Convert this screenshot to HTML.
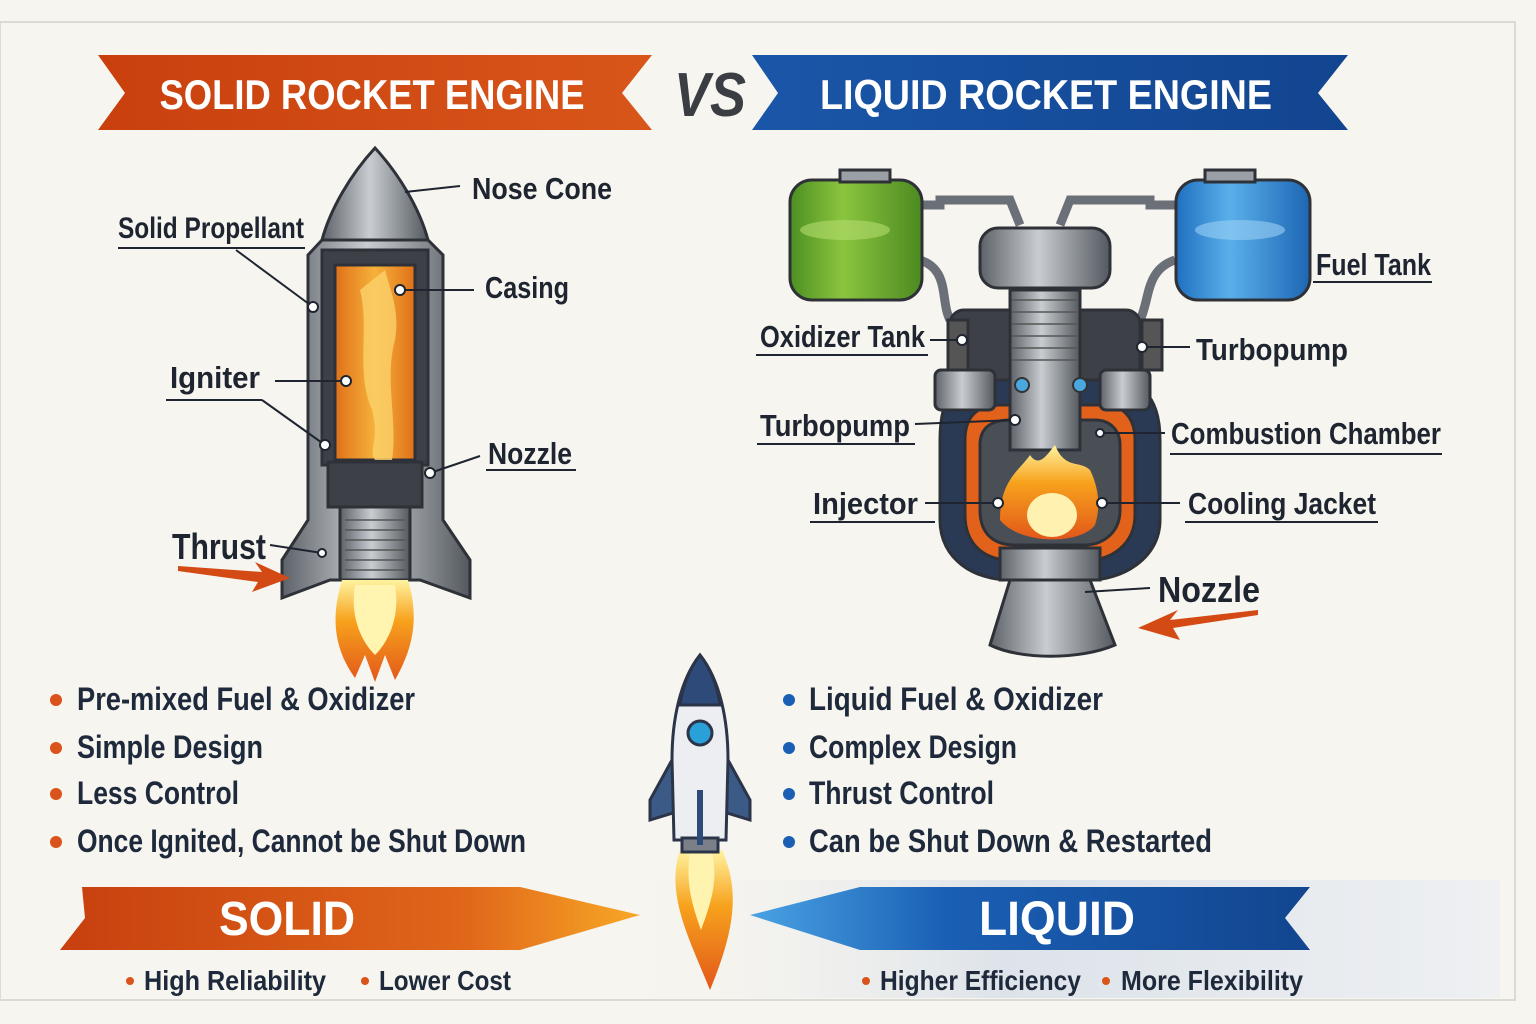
<!DOCTYPE html>
<html><head><meta charset="utf-8"><style>
html,body{margin:0;padding:0;background:#f7f5ef;}
svg{display:block}
text{font-family:"Liberation Sans Narrow","Liberation Sans",sans-serif;font-weight:bold;}
</style></head><body>
<svg width="1536" height="1024" viewBox="0 0 1536 1024" xmlns="http://www.w3.org/2000/svg">
<defs>
<linearGradient id="or" x1="0" x2="1"><stop offset="0" stop-color="#c9400e"/><stop offset="1" stop-color="#d8561a"/></linearGradient>
<linearGradient id="bl" x1="0" x2="1"><stop offset="0" stop-color="#1a56a8"/><stop offset="1" stop-color="#124590"/></linearGradient>
<linearGradient id="prop" x1="0" x2="1"><stop offset="0" stop-color="#e0701a"/><stop offset=".5" stop-color="#f6b23a"/><stop offset="1" stop-color="#e0701a"/></linearGradient>
<linearGradient id="metal" x1="0" x2="1"><stop offset="0" stop-color="#5d6268"/><stop offset=".45" stop-color="#c9cdd2"/><stop offset="1" stop-color="#54595f"/></linearGradient>
<linearGradient id="flame" x1="0" y1="0" x2="0" y2="1"><stop offset="0" stop-color="#fff3a0"/><stop offset=".4" stop-color="#f7a21c"/><stop offset="1" stop-color="#e2571a"/></linearGradient>
<linearGradient id="green" x1="0" x2="1"><stop offset="0" stop-color="#4c8f22"/><stop offset=".4" stop-color="#8bc53f"/><stop offset="1" stop-color="#4b8a20"/></linearGradient>
<linearGradient id="blue" x1="0" x2="1"><stop offset="0" stop-color="#1f6fc0"/><stop offset=".4" stop-color="#5ab0ea"/><stop offset="1" stop-color="#1d66b4"/></linearGradient>
<linearGradient id="solidb" x1="0" x2="1"><stop offset="0" stop-color="#c7400f"/><stop offset=".7" stop-color="#e0661a"/><stop offset="1" stop-color="#f7a826"/></linearGradient>
<linearGradient id="liqb" x1="0" x2="1"><stop offset="0" stop-color="#4aa3e4"/><stop offset=".35" stop-color="#1a5fb4"/><stop offset="1" stop-color="#12458f"/></linearGradient>
<linearGradient id="band" x1="0" x2="1"><stop offset="0" stop-color="#f7f5ef" stop-opacity="0"/><stop offset=".45" stop-color="#dde3ea"/><stop offset="1" stop-color="#eef0f2"/></linearGradient>
</defs>
<rect width="1536" height="1024" fill="#f7f5ef"/>
<rect x="0" y="22" width="1515" height="978" fill="none" stroke="#dcdad4" stroke-width="2"/>
<rect x="600" y="880" width="900" height="118" fill="url(#band)"/>

<!-- top banners -->
<polygon points="98,55 652,55 622,93 652,130 98,130 125,93" fill="url(#or)"/>
<text x="372" y="109" font-size="42" fill="#fff" text-anchor="middle" textLength="425" lengthAdjust="spacingAndGlyphs">SOLID ROCKET ENGINE</text>
<text x="710" y="116" font-size="62" fill="#3a3d42" font-style="italic" text-anchor="middle" textLength="72" lengthAdjust="spacingAndGlyphs">VS</text>
<polygon points="752,55 1348,55 1318,93 1348,130 752,130 778,93" fill="url(#bl)"/>
<text x="1046" y="109" font-size="42" fill="#fff" text-anchor="middle" textLength="452" lengthAdjust="spacingAndGlyphs">LIQUID ROCKET ENGINE</text>

<!-- solid rocket -->
<g stroke="#2e3238" stroke-width="3">
<path d="M375,148 C350,175 330,210 322,240 L428,240 C420,210 400,175 375,148Z" fill="url(#metal)"/>
<path d="M308,255 L322,240 L428,240 L443,255 L443,520 L470,560 L470,598 L420,580 L330,580 L282,598 L282,560 L308,520Z" fill="url(#metal)"/>
<rect x="322" y="250" width="106" height="215" fill="#3d4147"/>
<rect x="335" y="265" width="80" height="195" fill="url(#prop)"/>
<rect x="328" y="462" width="94" height="45" fill="#3d4147"/>
<path d="M340,507 L410,507 L410,580 L340,580Z" fill="url(#metal)"/>
</g>
<path d="M360,290 C370,330 355,370 372,410 C380,440 368,450 375,460 L392,460 C398,420 384,380 395,340 C400,310 390,290 385,270Z" fill="#fbd26a" opacity=".8"/>
<g stroke="#555" stroke-width="1.5">
<line x1="345" y1="520" x2="405" y2="520"/><line x1="345" y1="530" x2="405" y2="530"/><line x1="345" y1="540" x2="405" y2="540"/><line x1="345" y1="550" x2="405" y2="550"/><line x1="345" y1="560" x2="405" y2="560"/><line x1="345" y1="570" x2="405" y2="570"/>
</g>
<path d="M342,580 L408,580 C420,620 412,650 395,680 L385,655 L375,682 L365,655 L355,678 C335,650 330,620 342,580Z" fill="url(#flame)"/>
<path d="M355,585 L395,585 C400,615 390,640 375,655 C360,640 350,615 355,585Z" fill="#fff4b0"/>

<!-- solid labels -->
<g stroke="#1e2530" stroke-width="2" fill="none">
<line x1="405" y1="192" x2="460" y2="186"/>
<line x1="118" y1="248" x2="305" y2="248"/><line x1="236" y1="250" x2="313" y2="307"/>
<line x1="400" y1="290" x2="474" y2="290"/>
<line x1="166" y1="400" x2="262" y2="400"/><line x1="262" y1="400" x2="325" y2="445"/>
<line x1="275" y1="381" x2="346" y2="381"/>
<line x1="430" y1="473" x2="480" y2="456"/><line x1="486" y1="470" x2="576" y2="470"/>
<line x1="270" y1="545" x2="322" y2="553"/>
</g>
<g fill="#fff" stroke="#1e2530" stroke-width="2">
<circle cx="313" cy="307" r="5"/><circle cx="400" cy="290" r="5"/><circle cx="346" cy="381" r="5"/><circle cx="325" cy="445" r="5"/><circle cx="430" cy="473" r="5"/><circle cx="322" cy="553" r="4"/>
</g>
<polygon points="178,566 262,572 255,562 290,578 252,592 258,582 178,571" fill="#d44a14"/>
<g fill="#1e2530">
<text x="472" y="199" font-size="31" textLength="140" lengthAdjust="spacingAndGlyphs">Nose Cone</text>
<text x="118" y="238" font-size="30" textLength="186" lengthAdjust="spacingAndGlyphs">Solid Propellant</text>
<text x="485" y="298" font-size="31" textLength="84" lengthAdjust="spacingAndGlyphs">Casing</text>
<text x="170" y="388" font-size="31" textLength="90" lengthAdjust="spacingAndGlyphs">Igniter</text>
<text x="488" y="464" font-size="31" textLength="84" lengthAdjust="spacingAndGlyphs">Nozzle</text>
<text x="172" y="559" font-size="36" textLength="94" lengthAdjust="spacingAndGlyphs">Thrust</text>
</g>

<!-- liquid engine -->
<g stroke="#2e3238" stroke-width="3">
<path d="M920,205 L940,205 L940,200 L1010,200 L1020,225" fill="none" stroke="#6b7078" stroke-width="9"/>
<path d="M1175,205 L1150,205 L1150,200 L1070,200 L1060,225" fill="none" stroke="#6b7078" stroke-width="9"/>
<path d="M920,260 C950,270 940,300 950,320" fill="none" stroke="#6b7078" stroke-width="9"/>
<path d="M1175,260 C1145,270 1150,300 1140,320" fill="none" stroke="#6b7078" stroke-width="9"/>
<rect x="790" y="180" width="132" height="120" rx="22" fill="url(#green)"/>
<rect x="840" y="170" width="50" height="12" fill="#9aa0a6"/>
<rect x="1176" y="180" width="134" height="120" rx="22" fill="url(#blue)"/>
<rect x="1205" y="170" width="50" height="12" fill="#9aa0a6"/>
<rect x="980" y="228" width="130" height="60" rx="18" fill="url(#metal)"/>
<rect x="950" y="310" width="190" height="70" rx="14" fill="#3d4147"/>
<path d="M940,440 C940,390 960,380 980,380 L1110,380 C1135,380 1160,390 1160,440 L1160,520 C1160,560 1120,580 1090,580 L1010,580 C975,580 940,560 940,520Z" fill="#2a3a55"/>
<path d="M965,440 C965,410 985,405 1000,405 L1105,405 C1120,405 1135,415 1135,440 L1135,515 C1135,545 1110,560 1090,560 L1010,560 C985,560 965,545 965,515Z" fill="#e2621c"/>
<path d="M980,445 C980,425 995,420 1010,420 L1095,420 C1110,420 1120,430 1120,445 L1120,510 C1120,535 1100,545 1085,545 L1015,545 C995,545 980,535 980,510Z" fill="#4a4f56"/>
<rect x="1010" y="290" width="70" height="160" fill="url(#metal)"/>
<rect x="935" y="370" width="60" height="40" rx="6" fill="url(#metal)"/>
<rect x="1100" y="370" width="50" height="40" rx="6" fill="url(#metal)"/>
<rect x="1000" y="548" width="100" height="32" fill="url(#metal)"/>
<path d="M1010,580 L1090,580 L1115,645 C1080,660 1020,660 990,645Z" fill="url(#metal)"/>
<rect x="948" y="320" width="20" height="50" fill="#555"/><rect x="1142" y="320" width="20" height="50" fill="#555"/>
</g>
<g stroke="#555" stroke-width="1.5">
<line x1="1012" y1="300" x2="1078" y2="300"/><line x1="1012" y1="312" x2="1078" y2="312"/><line x1="1012" y1="324" x2="1078" y2="324"/><line x1="1012" y1="336" x2="1078" y2="336"/><line x1="1012" y1="348" x2="1078" y2="348"/><line x1="1012" y1="360" x2="1078" y2="360"/>
</g>
<path d="M1000,520 C1000,480 1020,470 1030,455 C1040,470 1050,450 1055,445 C1065,470 1080,460 1090,470 C1100,490 1100,510 1095,525 C1080,545 1020,545 1000,520Z" fill="url(#flame)"/>
<ellipse cx="1052" cy="515" rx="25" ry="22" fill="#fff2b0"/>
<circle cx="1022" cy="385" r="7" fill="#4aa8e0" stroke="#333" stroke-width="2"/><circle cx="1080" cy="385" r="7" fill="#4aa8e0" stroke="#333" stroke-width="2"/>
<ellipse cx="845" cy="230" rx="45" ry="10" fill="#b4dc6e" opacity=".6"/><ellipse cx="1240" cy="230" rx="45" ry="10" fill="#9ad0f5" opacity=".6"/>

<!-- liquid labels -->
<g stroke="#1e2530" stroke-width="2" fill="none">
<line x1="1313" y1="282" x2="1432" y2="282"/>
<line x1="756" y1="355" x2="928" y2="355"/><line x1="930" y1="340" x2="962" y2="340"/>
<line x1="1142" y1="347" x2="1190" y2="347"/>
<line x1="757" y1="444" x2="915" y2="444"/><line x1="915" y1="424" x2="1015" y2="420"/>
<line x1="1100" y1="433" x2="1165" y2="433"/><line x1="1170" y1="454" x2="1442" y2="454"/>
<line x1="810" y1="522" x2="935" y2="522"/><line x1="925" y1="503" x2="998" y2="503"/>
<line x1="1102" y1="503" x2="1180" y2="503"/><line x1="1185" y1="522" x2="1378" y2="522"/>
<line x1="1085" y1="592" x2="1150" y2="588"/>
</g>
<g fill="#fff" stroke="#1e2530" stroke-width="2">
<circle cx="962" cy="340" r="5"/><circle cx="1142" cy="347" r="5"/><circle cx="1015" cy="420" r="5"/><circle cx="1100" cy="433" r="4"/><circle cx="998" cy="503" r="5"/><circle cx="1102" cy="503" r="5"/>
</g>
<polygon points="1258,610 1170,620 1178,610 1138,628 1180,640 1173,628 1258,615" fill="#d44a14"/>
<g fill="#1e2530">
<text x="1316" y="275" font-size="31" textLength="115" lengthAdjust="spacingAndGlyphs">Fuel Tank</text>
<text x="760" y="347" font-size="31" textLength="165" lengthAdjust="spacingAndGlyphs">Oxidizer Tank</text>
<text x="1196" y="360" font-size="31" textLength="152" lengthAdjust="spacingAndGlyphs">Turbopump</text>
<text x="760" y="436" font-size="31" textLength="150" lengthAdjust="spacingAndGlyphs">Turbopump</text>
<text x="1171" y="444" font-size="31" textLength="270" lengthAdjust="spacingAndGlyphs">Combustion Chamber</text>
<text x="813" y="514" font-size="31" textLength="105" lengthAdjust="spacingAndGlyphs">Injector</text>
<text x="1188" y="514" font-size="31" textLength="188" lengthAdjust="spacingAndGlyphs">Cooling Jacket</text>
<text x="1158" y="602" font-size="36" textLength="102" lengthAdjust="spacingAndGlyphs">Nozzle</text>
</g>

<!-- bullets -->
<g fill="#d9531a"><circle cx="56" cy="700" r="6"/><circle cx="56" cy="748" r="6"/><circle cx="56" cy="794" r="6"/><circle cx="56" cy="842" r="6"/></g>
<g fill="#1a5fb4"><circle cx="789" cy="700" r="6"/><circle cx="789" cy="748" r="6"/><circle cx="789" cy="794" r="6"/><circle cx="789" cy="842" r="6"/></g>
<g fill="#1e2a3c" font-size="32">
<text x="77" y="710" textLength="338" lengthAdjust="spacingAndGlyphs">Pre-mixed Fuel &amp; Oxidizer</text>
<text x="77" y="758" textLength="186" lengthAdjust="spacingAndGlyphs">Simple Design</text>
<text x="77" y="804" textLength="162" lengthAdjust="spacingAndGlyphs">Less Control</text>
<text x="77" y="852" textLength="449" lengthAdjust="spacingAndGlyphs">Once Ignited, Cannot be Shut Down</text>
<text x="809" y="710" textLength="294" lengthAdjust="spacingAndGlyphs">Liquid Fuel &amp; Oxidizer</text>
<text x="809" y="758" textLength="208" lengthAdjust="spacingAndGlyphs">Complex Design</text>
<text x="809" y="804" textLength="185" lengthAdjust="spacingAndGlyphs">Thrust Control</text>
<text x="809" y="852" textLength="403" lengthAdjust="spacingAndGlyphs">Can be Shut Down &amp; Restarted</text>
</g>

<!-- center rocket -->
<path d="M680,850 L722,850 C740,890 735,930 710,990 C690,940 665,895 680,850Z" fill="url(#flame)"/>
<path d="M690,852 L712,852 C718,880 712,900 701,930 C690,900 686,880 690,852Z" fill="#fff3b0"/>
<g stroke="#2b3448" stroke-width="3">
<path d="M672,760 L650,800 L650,820 L676,812Z" fill="#3b5a86"/>
<path d="M728,760 L750,800 L750,820 L724,812Z" fill="#3b5a86"/>
<path d="M700,655 C680,680 672,720 672,760 L674,840 L726,840 L728,760 C728,720 720,680 700,655Z" fill="#eceef2"/>
<path d="M700,655 C688,670 682,690 680,705 L720,705 C718,690 712,670 700,655Z" fill="#2e4a78"/>
<rect x="682" y="838" width="36" height="14" fill="#7b8088"/>
</g>
<circle cx="700" cy="733" r="12" fill="#2aa0d8" stroke="#2b3448" stroke-width="3"/>
<line x1="700" y1="790" x2="700" y2="845" stroke="#2e4a78" stroke-width="6"/>

<!-- bottom banners -->
<polygon points="82,887 520,887 640,915 520,950 60,950 85,918" fill="url(#solidb)"/>
<text x="287" y="935" font-size="48" fill="#fff" text-anchor="middle" textLength="136" lengthAdjust="spacingAndGlyphs">SOLID</text>
<polygon points="750,915 860,887 1310,887 1285,918 1310,950 860,950" fill="url(#liqb)"/>
<text x="1057" y="935" font-size="48" fill="#fff" text-anchor="middle" textLength="156" lengthAdjust="spacingAndGlyphs">LIQUID</text>
<g fill="#d9531a"><circle cx="130" cy="981" r="4"/><circle cx="365" cy="981" r="4"/><circle cx="866" cy="981" r="4"/><circle cx="1106" cy="981" r="4"/></g>
<g fill="#1e2a3c" font-size="28">
<text x="144" y="990" textLength="182" lengthAdjust="spacingAndGlyphs">High Reliability</text>
<text x="379" y="990" textLength="132" lengthAdjust="spacingAndGlyphs">Lower Cost</text>
<text x="880" y="990" textLength="201" lengthAdjust="spacingAndGlyphs">Higher Efficiency</text>
<text x="1121" y="990" textLength="182" lengthAdjust="spacingAndGlyphs">More Flexibility</text>
</g>
</svg>
</body></html>
